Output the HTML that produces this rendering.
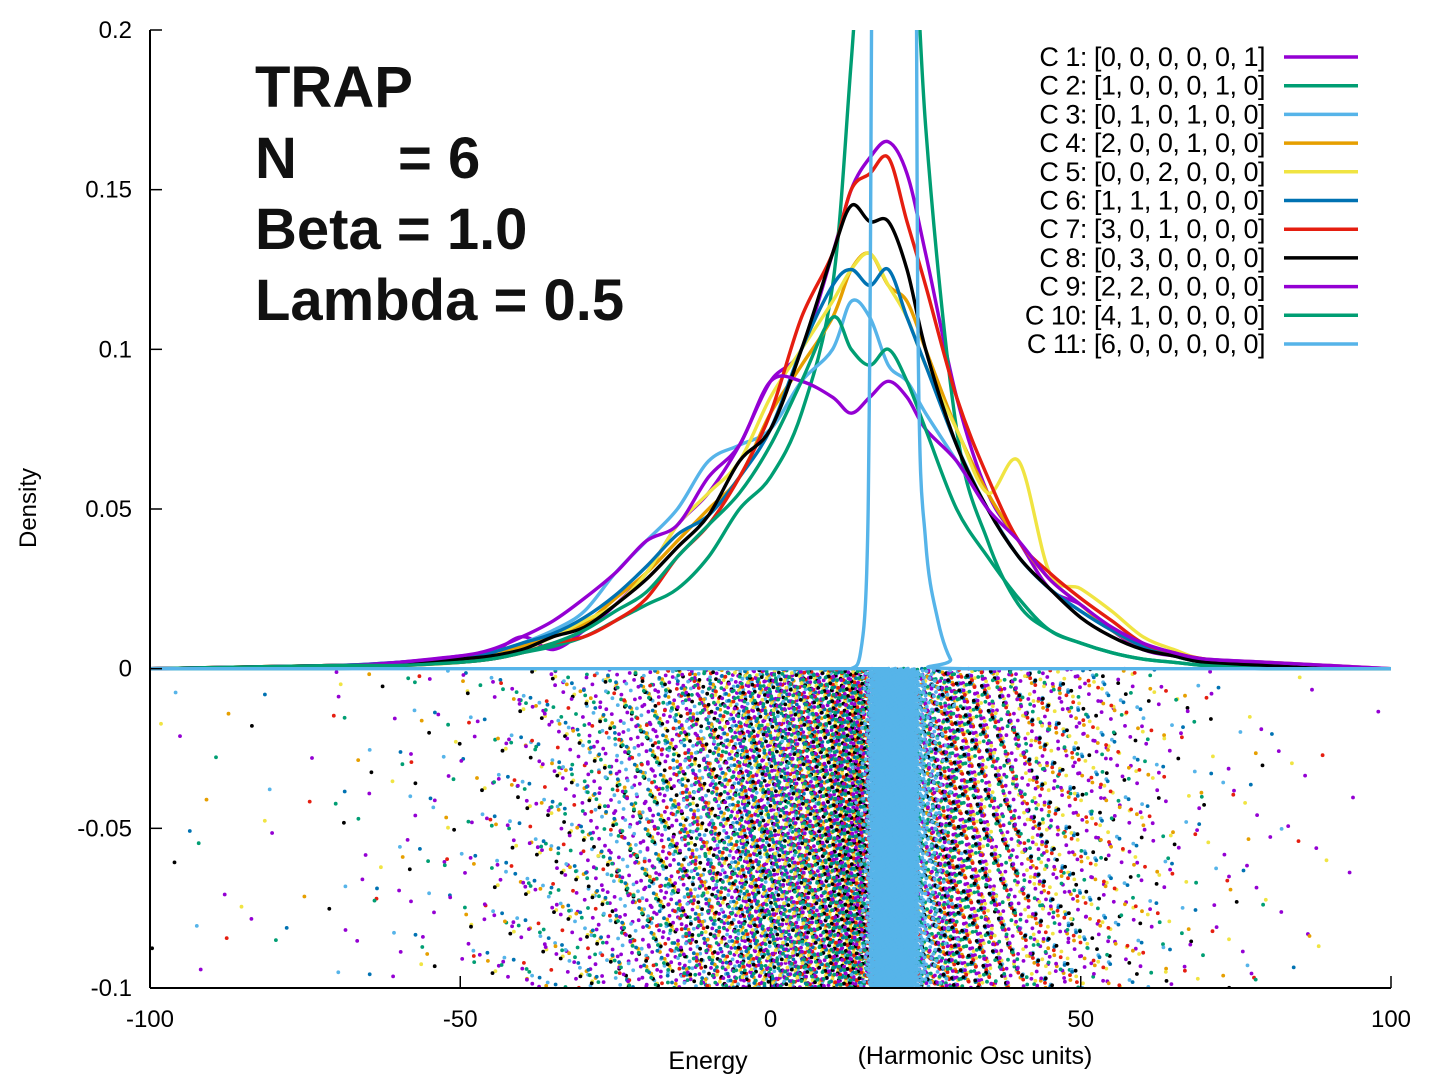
<!DOCTYPE html>
<html><head><meta charset="utf-8"><style>
body{margin:0;background:#fff;width:1440px;height:1080px;overflow:hidden;font-family:"Liberation Sans",Arial,sans-serif}
svg{position:absolute;left:0;top:0}
</style></head><body>
<svg id="chart" width="1440" height="1080">
<defs><clipPath id="plotclip"><rect x="150" y="30" width="1241" height="958"/></clipPath></defs>
<g id="scatter" clip-path="url(#plotclip)"></g>
<g id="curves" clip-path="url(#plotclip)"></g>
<g id="axes"></g>
<g font-weight="bold" font-size="58" fill="#111">
<text x="255" y="107">TRAP</text>
<text x="255" y="178">N</text><text x="398" y="178">= 6</text>
<text x="255" y="249">Beta = 1.0</text>
<text x="255" y="320">Lambda = 0.5</text>
</g>
<g id="legend"></g>
<text x="36" y="508" font-size="24" text-anchor="middle" transform="rotate(-90 36 508)">Density</text>
<text x="708" y="1069" font-size="25" text-anchor="middle">Energy</text>
<text x="975" y="1064" font-size="25" text-anchor="middle">(Harmonic Osc units)</text>
</svg>
<script>
const xs = [-100,-70,-60,-50,-45,-40,-35,-30,-25,-20,-15,-10,-5,0,5,10,13,16,19,22,25,30,35,40,45,50,55,60,65,70,80,90,100];
const xs11 = [-100,10,13,14.5,15.5,16,17,20,23,23.8,25,27,29,31,100];
const labels = ["C 1: [0, 0, 0, 0, 0, 1]","C 2: [1, 0, 0, 0, 1, 0]","C 3: [0, 1, 0, 1, 0, 0]","C 4: [2, 0, 0, 1, 0, 0]","C 5: [0, 0, 2, 0, 0, 0]","C 6: [1, 1, 1, 0, 0, 0]","C 7: [3, 0, 1, 0, 0, 0]","C 8: [0, 3, 0, 0, 0, 0]","C 9: [2, 2, 0, 0, 0, 0]","C 10: [4, 1, 0, 0, 0, 0]","C 11: [6, 0, 0, 0, 0, 0]"];
const colors = ["#9400d3","#009e73","#56b4e9","#e69f00","#f0e442","#0072b2","#e51e10","#000000","#9400d3","#009e73","#56b4e9"];
const c1 = [0,0.001,0.002,0.004,0.005,0.01,0.006,0.012,0.02,0.03,0.045,0.055,0.07,0.09,0.1,0.13,0.15,0.16,0.165,0.155,0.13,0.085,0.055,0.04,0.025,0.02,0.012,0.006,0.004,0.003,0.002,0.001,0];
const c2 = [0,0,0.001,0.002,0.003,0.005,0.007,0.01,0.015,0.02,0.025,0.035,0.05,0.06,0.08,0.12,0.19,0.27,0.3,0.28,0.17,0.075,0.04,0.02,0.012,0.008,0.005,0.003,0.002,0.001,0,0,0];
const c3 = [0,0.001,0.002,0.003,0.005,0.008,0.012,0.018,0.03,0.04,0.05,0.065,0.07,0.075,0.09,0.1,0.115,0.11,0.095,0.09,0.08,0.065,0.05,0.035,0.025,0.018,0.012,0.007,0.004,0.002,0.001,0,0];
const c4 = [0,0.001,0.001,0.003,0.004,0.007,0.01,0.014,0.022,0.03,0.04,0.05,0.06,0.08,0.095,0.11,0.125,0.13,0.12,0.115,0.1,0.075,0.055,0.04,0.028,0.02,0.012,0.007,0.004,0.002,0.001,0,0];
const c5 = [0,0.001,0.001,0.002,0.004,0.006,0.01,0.015,0.02,0.03,0.045,0.055,0.065,0.085,0.1,0.115,0.125,0.13,0.12,0.11,0.095,0.075,0.055,0.065,0.03,0.025,0.018,0.01,0.006,0.003,0.002,0.001,0];
const c6 = [0,0.001,0.002,0.003,0.005,0.008,0.011,0.016,0.023,0.032,0.042,0.048,0.06,0.075,0.1,0.12,0.125,0.12,0.125,0.11,0.095,0.07,0.05,0.035,0.025,0.018,0.012,0.007,0.004,0.002,0.001,0,0];
const c7 = [0,0.001,0.001,0.002,0.003,0.005,0.008,0.01,0.015,0.022,0.035,0.045,0.06,0.08,0.11,0.13,0.15,0.155,0.16,0.14,0.12,0.085,0.06,0.04,0.03,0.022,0.015,0.008,0.005,0.003,0.001,0,0];
const c8 = [0,0.001,0.001,0.003,0.004,0.006,0.01,0.013,0.02,0.028,0.038,0.048,0.065,0.075,0.1,0.13,0.145,0.14,0.14,0.125,0.1,0.07,0.05,0.035,0.025,0.016,0.01,0.006,0.004,0.002,0.001,0,0];
const c9 = [0,0.001,0.002,0.004,0.006,0.01,0.015,0.022,0.03,0.04,0.045,0.06,0.07,0.09,0.09,0.085,0.08,0.085,0.09,0.085,0.075,0.065,0.05,0.04,0.028,0.02,0.013,0.008,0.005,0.003,0.002,0.001,0];
const c10 = [0,0.001,0.001,0.002,0.003,0.005,0.008,0.012,0.018,0.024,0.035,0.045,0.055,0.07,0.09,0.11,0.1,0.095,0.1,0.09,0.075,0.05,0.035,0.022,0.012,0.008,0.005,0.003,0.002,0.001,0,0,0];
const c11 = [0,0,0,0.005,0.03,0.1,0.35,0.45,0.35,0.1,0.04,0.015,0.003,0,0];
const yTicks = [0.2,0.15,0.1,0.05,0,-0.05,-0.1];
const yTickLabels = ["0.2","0.15","0.1","0.05","0","-0.05","-0.1"];
const xTicks = [-100,-50,0,50,100];
const xTickLabels = ["-100","-50","0","50","100"];
const scatterCounts = [1500,1400,1400,1300,1300,1300,1300,1400,1500,1300,5000];

const NS="http://www.w3.org/2000/svg";
const X0=150,X1=1391,Y0=988,Y1=30;
function sx(v){return X0+(v+100)/200*(X1-X0);}
function sy(v){return Y0-(v+0.1)/0.3*(Y0-Y1);}
const series=[c1,c2,c3,c4,c5,c6,c7,c8,c9,c10,c11];
const seriesX=[xs,xs,xs,xs,xs,xs,xs,xs,xs,xs,xs11];

function mk(tag,attrs,parent){const e=document.createElementNS(NS,tag);for(const k in attrs)e.setAttribute(k,attrs[k]);parent.appendChild(e);return e;}
function pathD(px,py){
  let d="M"+px[0]+","+py[0];
  for(let i=0;i<px.length-1;i++){
    const p0=i>0?i-1:i,p3=i+2<px.length?i+2:i+1;
    const c1x=px[i]+(px[i+1]-px[p0])/6,c1y=py[i]+(py[i+1]-py[p0])/6;
    const c2x=px[i+1]-(px[p3]-px[i])/6,c2y=py[i+1]-(py[p3]-py[i])/6;
    d+=" C"+c1x.toFixed(1)+","+Math.min(c1y,sy(0)).toFixed(1)+" "+c2x.toFixed(1)+","+Math.min(c2y,sy(0)).toFixed(1)+" "+px[i+1].toFixed(1)+","+py[i+1].toFixed(1);
  }
  return d;
}
const sc=document.getElementById("scatter");
series.forEach((vals,s)=>{
  const xa=seriesX[s];
  const cdf=[0];
  for(let i=1;i<xa.length;i++)cdf.push(cdf[i-1]+(vals[i]+vals[i-1])/2*(xa[i]-xa[i-1]));
  const tot=cdf[cdf.length-1];
  const n=scatterCounts[s];
  const g=document.createElementNS(NS,"g");
  
  
  g.setAttribute('fill',colors[s]);
  sc.appendChild(g);
  let html="";
  for(let k=0;k<n;k++){
    const u=(k*0.7548776662+s*0.137+0.5)%1;
    const t=u*tot;let j=1;while(j<cdf.length-1&&cdf[j]<t)j++;
    const f=(t-cdf[j-1])/Math.max(1e-9,cdf[j]-cdf[j-1]);
    const xv=xa[j-1]+f*(xa[j]-xa[j-1]);
    const yv=-0.1*((k*0.5698402910+s*0.291+0.5)%1);
    html+='<circle cx="'+sx(xv).toFixed(1)+'" cy="'+(sy(yv)).toFixed(1)+'" r="1.9"/>';
  }
  g.innerHTML=html;
});
const cv=document.getElementById("curves");
series.forEach((vals,s)=>{
  const px=seriesX[s].map(sx),py=vals.map(sy);
  const p=mk("path",{d:pathD(px,py),fill:"none",stroke:colors[s],"stroke-width":3.4,"stroke-linejoin":"round"},cv);
  
  
});
const ax=document.getElementById("axes");
mk("line",{x1:X0,y1:Y1,x2:X0,y2:Y0,stroke:"#000","stroke-width":2},ax);
mk("line",{x1:X0,y1:Y0,x2:X1,y2:Y0,stroke:"#000","stroke-width":2},ax);
yTicks.forEach((v,i)=>{
  mk("line",{x1:X0,y1:sy(v),x2:X0+12,y2:sy(v),stroke:"#000","stroke-width":1.5},ax);
  const t=mk("text",{x:132,y:sy(v)+8,"font-size":24,"text-anchor":"end"},ax);t.textContent=yTickLabels[i];
  
  
});
xTicks.forEach((v,i)=>{
  mk("line",{x1:sx(v),y1:Y0,x2:sx(v),y2:Y0-12,stroke:"#000","stroke-width":1.5},ax);
  const t=mk("text",{x:sx(v),y:1027,"font-size":24,"text-anchor":"middle"},ax);t.textContent=xTickLabels[i];
  
  
});
const lg=document.getElementById("legend");
labels.forEach((l,i)=>{
  const y=57+28.7*i;
  const t=mk("text",{x:1265,y:y+9,"font-size":27,"text-anchor":"end","letter-spacing":"-0.5"},lg);t.textContent=l;
  
  
  const ln=mk("line",{x1:1284,y1:y,x2:1358,y2:y,stroke:colors[i],"stroke-width":3.5},lg);
  
  
});
</script>
</body></html>
